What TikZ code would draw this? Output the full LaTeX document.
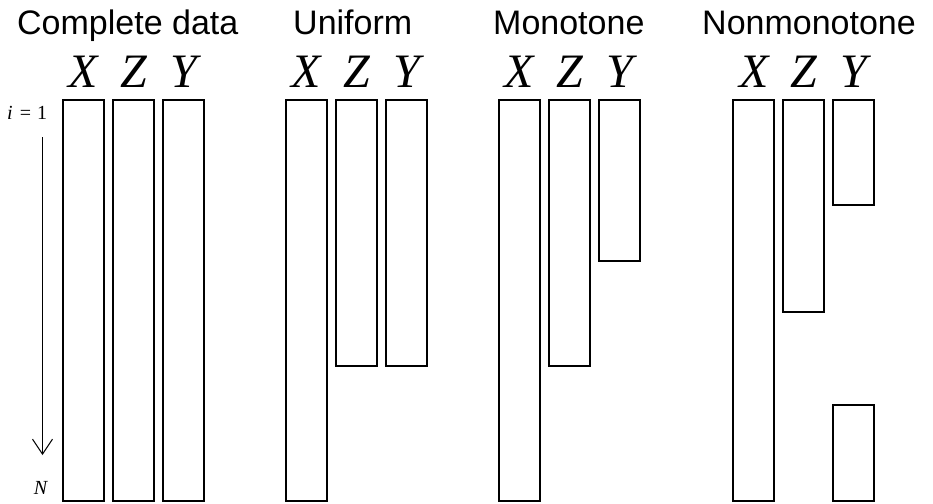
\documentclass[tikz,border=0pt]{standalone}
\usepackage{fontspec}
\setmainfont{Liberation Sans}
\newfontfamily\varfont{Liberation Serif}
\usetikzlibrary{arrows.meta}
\tikzset{
  col/.style={draw, line width=2.3pt, inner sep=0pt, anchor=north west, minimum width=41pt},
  ttl/.style={anchor=base west, inner sep=0pt, font=\fontsize{34}{40}\selectfont},
  var/.style={anchor=base, inner sep=0pt, font=\varfont\itshape\fontsize{48}{54}\selectfont},
  idx/.style={inner sep=0pt, font=\varfont\fontsize{20}{24}\selectfont},
}
\begin{document}
\begin{tikzpicture}[x=1pt,y=-1pt]
\useasboundingbox (0,0) rectangle (933,503);
% titles
\node[ttl] (t1) at (17,35) {Complete data};
\node[ttl] (t2) at (293,35) {Uniform};
\node[ttl] (t3) at (493,35) {Monotone};
\node[ttl] (t4) at (702,35) {Nonmonotone};
% Complete data
\node[col, minimum height=401pt] (cx) at (62,99) {};
\node[col, minimum height=401pt] (cz) at (112,99) {};
\node[col, minimum height=401pt] (cy) at (162,99) {};
% Uniform
\node[col, minimum height=401pt] (ux) at (285,99) {};
\node[col, minimum height=266pt] (uz) at (335,99) {};
\node[col, minimum height=266pt] (uy) at (385,99) {};
% Monotone
\node[col, minimum height=401pt] (mx) at (498,99) {};
\node[col, minimum height=266pt] (mz) at (548,99) {};
\node[col, minimum height=161pt] (my) at (598,99) {};
% Nonmonotone
\node[col, minimum height=401pt] (nx) at (732,99) {};
\node[col, minimum height=212pt] (nz) at (782,99) {};
\node[col, minimum height=105pt] (ny) at (832,99) {};
\node[col, minimum height=96pt] (ny2) at (832,404) {};
% variable labels
\foreach \b in {c,u,m,n}{
  \node[var] at ([yshift=12pt]\b x.north) {X};
  \node[var] at ([yshift=12pt]\b z.north) {Z};
  \node[var] at ([yshift=12pt]\b y.north) {Y};
}
% index
\node[idx, anchor=base west] (i1) at (7,119) {\textit{i}\hspace{7pt}=\hspace{6pt}1};
\node[idx, anchor=base] (nN) at (41,494) {\textit{N}};
\coordinate (as) at (42.5,137);
\coordinate (ae) at (42.5,455);
\draw[line width=1pt, -{Straight Barb[length=15pt,width=20pt,line width=1pt]}] (as) -- (ae);
\end{tikzpicture}
\end{document}
